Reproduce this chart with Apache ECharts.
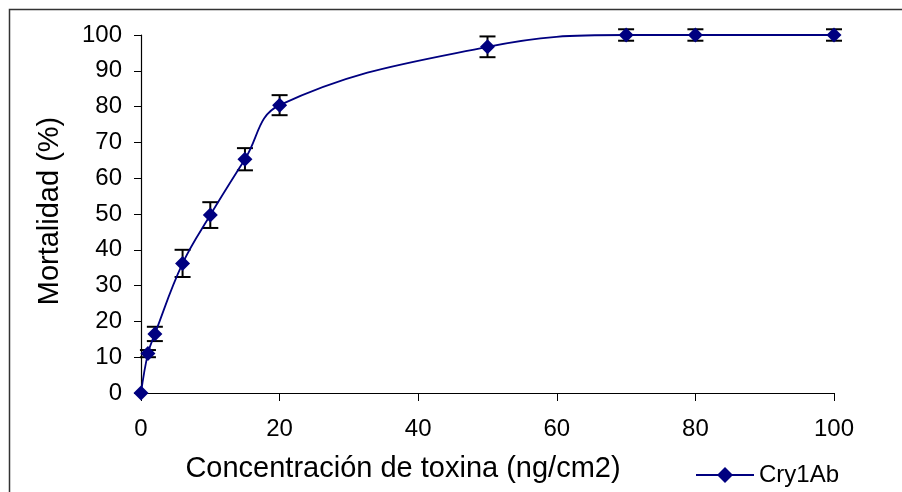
<!DOCTYPE html>
<html>
<head>
<meta charset="utf-8">
<script src="https://cdn.jsdelivr.net/npm/echarts@6/dist/echarts.min.js"></script>
<style>
  html, body { margin: 0; padding: 0; background: #fff; }
  #chart { width: 902px; height: 492px; }
</style>
</head>
<body>
<div id="chart"></div>
<script>
// datos
const concentraciones = [0, 1, 2, 6, 10, 15, 20, 50, 70, 80, 100];
const mortalidad = [0, 11, 16.5, 36.2, 49.7, 65.3, 80.4, 96.7, 100, 100, 100];
const errores = [0, 1, 2, 3.8, 3.6, 3.1, 2.8, 2.9, 1.6, 1.6, 1.6];
const xTicks = [0, 20, 40, 60, 80, 100];
const yTicks = [0, 10, 20, 30, 40, 50, 60, 70, 80, 90, 100];

const fuente = "'Liberation Sans', Arial, sans-serif";
const azul = "#000080";

const puntos = concentraciones.map((x, i) => [x, mortalidad[i]]);
const barras = concentraciones.map((x, i) => [x, mortalidad[i], errores[i]]);

const myChart = echarts.init(document.getElementById("chart"));

const option = {
  animation: false,
  backgroundColor: "#fff",
  textStyle: { fontFamily: fuente },
  grid: { left: 141, right: 68, top: 35, bottom: 99 },
  xAxis: {
    type: "value",
    min: xTicks[0],
    max: xTicks[xTicks.length - 1],
    interval: 20,
    axisLine: { lineStyle: { color: "#000", width: 1.2 } },
    axisTick: { show: true, length: 8, lineStyle: { color: "#000" } },
    splitLine: { show: false },
    axisLabel: { color: "#000", fontSize: 24, margin: 24, fontFamily: fuente }
  },
  yAxis: {
    type: "value",
    min: yTicks[0],
    max: yTicks[yTicks.length - 1],
    interval: 10,
    axisLine: { show: true, lineStyle: { color: "#000", width: 1.2 } },
    axisTick: { show: true, length: 7, lineStyle: { color: "#000" } },
    splitLine: { show: false },
    axisLabel: { color: "#000", fontSize: 24, margin: 19, fontFamily: fuente }
  },
  legend: {
    data: ["Cry1Ab"],
    left: 690,
    top: 458,
    itemWidth: 58,
    itemHeight: 20,
    itemGap: 6,
    textStyle: { color: "#000", fontSize: 24, fontFamily: fuente }
  },
  graphic: [
    {
      // marco exterior
      type: "rect",
      shape: { x: 9.5, y: 9.5, width: 1000, height: 1000 },
      style: { fill: "none", stroke: "#333", lineWidth: 1.5 },
      silent: true
    },
    {
      type: "text",
      x: 403,
      y: 469,
      style: {
        text: "Concentración de toxina (ng/cm2)",
        fontSize: 29,
        fontFamily: fuente,
        fill: "#000",
        align: "center",
        verticalAlign: "middle"
      }
    },
    {
      type: "text",
      x: 50,
      y: 211,
      rotation: Math.PI / 2,
      style: {
        text: "Mortalidad (%)",
        fontSize: 29,
        fontFamily: fuente,
        fill: "#000",
        align: "center",
        verticalAlign: "middle"
      }
    }
  ],
  series: [
    {
      name: "error",
      type: "custom",
      z: 2,
      data: barras,
      encode: { x: 0, y: 1 },
      renderItem: function(params, api) {
        const x = api.value(0), y = api.value(1), e = api.value(2);
        if (!e) return;
        const hi = api.coord([x, y + e]);
        const lo = api.coord([x, y - e]);
        const w = 8;
        const estilo = { stroke: "#000", lineWidth: 2 };
        return {
          type: "group",
          children: [
            { type: "line", shape: { x1: hi[0], y1: hi[1], x2: lo[0], y2: lo[1] }, style: estilo },
            { type: "line", shape: { x1: hi[0] - w, y1: hi[1], x2: hi[0] + w, y2: hi[1] }, style: estilo },
            { type: "line", shape: { x1: lo[0] - w, y1: lo[1], x2: lo[0] + w, y2: lo[1] }, style: estilo }
          ]
        };
      }
    },
    {
      name: "Cry1Ab",
      type: "line",
      z: 5,
      data: puntos,
      smooth: 0.4,
      symbol: "diamond",
      symbolSize: 15,
      lineStyle: { color: azul, width: 1.8 },
      itemStyle: { color: azul }
    }
  ]
};

myChart.setOption(option);
</script>
</body>
</html>
